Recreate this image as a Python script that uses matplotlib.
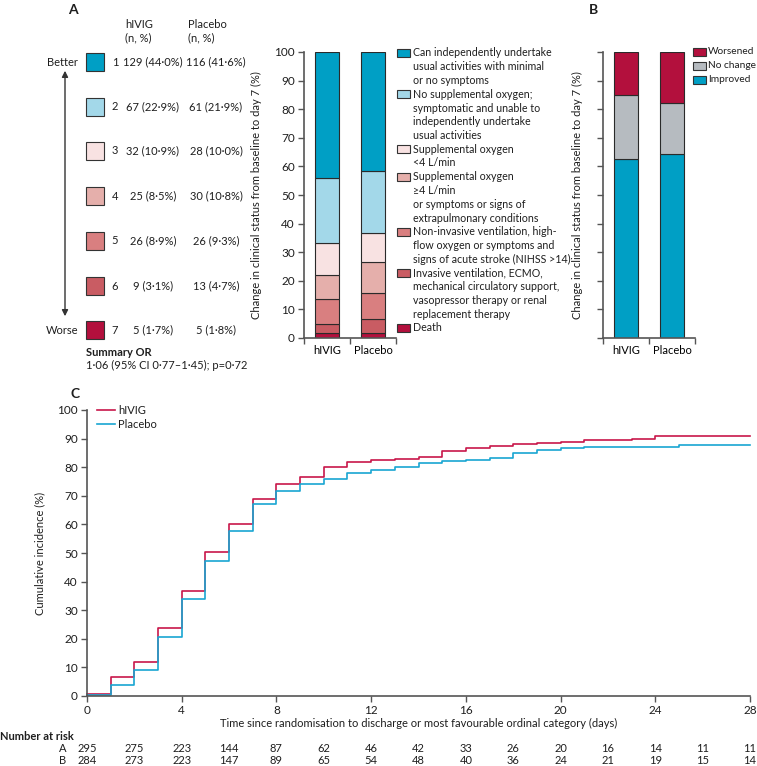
import matplotlib
matplotlib.use('Agg')
import matplotlib.pyplot as plt
from matplotlib.patches import Rectangle, FancyArrowPatch
from matplotlib.lines import Line2D
from matplotlib.transforms import blended_transform_factory

plt.rcParams['font.family'] = ['Lato', 'DejaVu Sans']
plt.rcParams['font.size'] = 8

W, H = 757, 766

# ---------------- data ----------------
groups = ['hIVIG', 'Placebo']
levels = [1, 2, 3, 4, 5, 6, 7]
hivig_n = [129, 67, 32, 25, 26, 9, 5]
hivig_pct = [44.0, 22.9, 10.9, 8.5, 8.9, 3.1, 1.7]
placebo_n = [116, 61, 28, 30, 26, 13, 5]
placebo_pct = [41.6, 21.9, 10.0, 10.8, 9.3, 4.7, 1.8]
category_labels = [
    "Can independently undertake\nusual activities with minimal\nor no symptoms",
    "No supplemental oxygen;\nsymptomatic and unable to\nindependently undertake\nusual activities",
    "Supplemental oxygen\n<4 L/min",
    "Supplemental oxygen\n\u22654 L/min\nor symptoms or signs of\nextrapulmonary conditions",
    "Non-invasive ventilation, high-\nflow oxygen or symptoms and\nsigns of acute stroke (NIHSS >14)",
    "Invasive ventilation, ECMO,\nmechanical circulatory support,\nvasopressor therapy or renal\nreplacement therapy",
    "Death",
]
level_colors = ['#009fc5', '#a3d8e9', '#f8e2e2', '#e5afab', '#d97f80', '#c95c63', '#b3103d']

change_labels = ['Worsened', 'No change', 'Improved']
change_hivig = [15.2, 22.1, 62.7]
change_placebo = [18.0, 17.8, 64.2]
change_colors = ['#b3103d', '#b6bbc0', '#009fc5']

days = list(range(0, 29))
cum_hivig = [0.7, 6.5, 11.9, 23.7, 36.6, 50.3, 60.0, 68.9, 74.0, 76.7, 80.0, 81.7, 82.4, 82.7,
             83.6, 85.7, 86.6, 87.5, 88.1, 88.5, 88.9, 89.6, 89.6, 90.0, 90.9, 90.9, 90.9, 90.9]
cum_placebo = [0.3, 3.9, 9.2, 20.7, 33.9, 47.3, 57.8, 67.1, 71.8, 74.0, 75.8, 77.8, 78.9, 80.0,
               81.4, 82.1, 82.4, 83.2, 84.8, 86.0, 86.6, 86.9, 87.0, 87.0, 87.0, 87.9, 87.9, 87.9]
risk_days = [0, 2, 4, 6, 8, 10, 12, 14, 16, 18, 20, 22, 24, 26, 28]
risk_A = [295, 275, 223, 144, 87, 62, 46, 42, 33, 26, 20, 16, 14, 11, 11]
risk_B = [284, 273, 223, 147, 89, 65, 54, 48, 40, 36, 24, 21, 19, 15, 14]

col_hivig = '#c8174a'
col_placebo = '#19a6d2'
spine_col = '#555555'
txt = '#1e1e1e'

# ---------------- helpers ----------------
fig = plt.figure(figsize=(W / 100, H / 100), dpi=100)


def box(x0, y0, x1, y1):
    return [x0 / W, 1 - y1 / H, (x1 - x0) / W, (y1 - y0) / H]


def T(x, y, s, **kw):
    kw.setdefault('va', 'center')
    kw.setdefault('color', txt)
    return fig.text(x / W, 1 - y / H, s, **kw)


def R(x0, y0, w, h, color):
    fig.add_artist(Rectangle((x0 / W, 1 - (y0 + h) / H), w / W, h / H, facecolor=color,
                             edgecolor='#333333', linewidth=0.8, transform=fig.transFigure))


def style(ax):
    for s in ['top', 'right']:
        ax.spines[s].set_visible(False)
    for s in ['left', 'bottom']:
        ax.spines[s].set_color(spine_col)
        ax.spines[s].set_linewidth(1.2)
    ax.tick_params(colors=spine_col, labelcolor=txt, width=1.0, length=4, labelsize=8.5, pad=2.5)


def fmt(n, p):
    return f"{n} ({p:.1f}%)".replace('.', '\u00b7')

# ---------------- panel A table ----------------
T(73, 10, 'A', fontsize=10, fontweight='bold', ha='center')
T(125, 24, 'hIVIG', ha='left')
T(125, 38, '(n, %)', ha='left')
T(188, 24, 'Placebo', ha='left')
T(188, 38, '(n, %)', ha='left')
row_y = [62, 107, 151, 196, 241, 286, 330]
for i, lv in enumerate(levels):
    y = row_y[i]
    R(86, y - 9, 18, 18, level_colors[i])
    T(115, y, str(lv), ha='center')
    T(153, y, fmt(hivig_n[i], hivig_pct[i]), ha='center')
    T(216, y, fmt(placebo_n[i], placebo_pct[i]), ha='center')
T(78, 62, 'Better', ha='right')
T(78, 330, 'Worse', ha='right')
fig.add_artist(FancyArrowPatch((65 / W, 1 - 68 / H), (65 / W, 1 - 319 / H),
                               arrowstyle='<|-|>', mutation_scale=9, color='#333333',
                               linewidth=1.0, transform=fig.transFigure))
T(86, 352, 'Summary OR', ha='left', fontweight='bold')
T(86, 365, '1\u00b706 (95% CI 0\u00b777\u20131\u00b745); p=0\u00b772', ha='left')

# ---------------- panel A bars ----------------
axA = fig.add_axes(box(304, 52, 396, 338))
xpos = [0.5, 1.5]
bottom = [0.0, 0.0]
for i in reversed(range(len(levels))):
    h = [hivig_pct[i], placebo_pct[i]]
    axA.bar(xpos, h, width=0.52, bottom=bottom, color=level_colors[i],
            edgecolor='#2a2a2a', linewidth=0.8)
    bottom = [bottom[0] + h[0], bottom[1] + h[1]]
axA.set_xlim(0, 2)
axA.set_ylim(0, 100)
axA.set_yticks(range(0, 101, 10))
axA.set_xticks([0, 1, 2])
axA.set_xticklabels([])
axA.set_xticks(xpos, minor=True)
axA.set_xticklabels(groups, minor=True)
style(axA)
axA.tick_params(axis='x', which='minor', length=0, pad=5)
axA.set_ylabel('Change in clinical status from baseline to day 7 (%)', color=txt)
axA.yaxis.set_label_coords((262 - 304) / 92, 0.5)

# legend A (manual)
line_h = 13.75
ly = 53
for i, lab in enumerate(category_labels):
    R(397, ly - 4, 13, 8, level_colors[i])
    for j, ln in enumerate(lab.split('\n')):
        T(413, ly + j * line_h, ln, ha='left', fontsize=7.7)
    ly += line_h * len(lab.split('\n'))

# ---------------- panel B ----------------
T(593, 10, 'B', fontsize=10, fontweight='bold', ha='center')
axB = fig.add_axes(box(603, 52, 695, 338))
bottom = [0.0, 0.0]
for i in reversed(range(len(change_labels))):
    h = [change_hivig[i], change_placebo[i]]
    axB.bar(xpos, h, width=0.52, bottom=bottom, color=change_colors[i],
            edgecolor='#2a2a2a', linewidth=0.8)
    bottom = [bottom[0] + h[0], bottom[1] + h[1]]
axB.set_xlim(0, 2)
axB.set_ylim(0, 100)
axB.set_yticks(range(0, 101, 10))
axB.set_yticklabels([])
axB.set_xticks([0, 1, 2])
axB.set_xticklabels([])
axB.set_xticks(xpos, minor=True)
axB.set_xticklabels(groups, minor=True)
style(axB)
axB.tick_params(axis='x', which='minor', length=0, pad=5)
axB.set_ylabel('Change in clinical status from baseline to day 7 (%)', color=txt)
axB.yaxis.set_label_coords((583 - 603) / 92, 0.5)
for i, lab in enumerate(change_labels):
    y = 52 + 14 * i
    R(693, y - 4, 13, 8, change_colors[i])
    T(708, y, lab, ha='left', fontsize=7.3)

# ---------------- panel C ----------------
T(75, 394, 'C', fontsize=10, fontweight='bold', ha='center')
axC = fig.add_axes(box(87, 410, 750, 696))
axC.step(days, cum_hivig + [cum_hivig[-1]], where='post', color=col_hivig, linewidth=1.2,
         label='hIVIG', clip_on=False)
axC.step(days, cum_placebo + [cum_placebo[-1]], where='post', color=col_placebo, linewidth=1.2,
         label='Placebo', clip_on=False)
axC.set_xlim(0, 28)
axC.set_ylim(0, 100)
axC.set_xticks(range(0, 29, 4))
axC.set_yticks(range(0, 101, 10))
style(axC)
axC.set_ylabel('Cumulative incidence (%)', color=txt)
axC.yaxis.set_label_coords((45 - 87) / 663, 0.5)
axC.set_xlabel('Time since randomisation to discharge or most favourable ordinal category (days)',
               color=txt)
axC.xaxis.set_label_coords(0.5, -(718 - 696) / 286)
for y, lab, c in [(410, 'hIVIG', col_hivig), (424, 'Placebo', col_placebo)]:
    fig.add_artist(Line2D([97 / W, 115 / W], [1 - y / H, 1 - y / H], color=c, linewidth=1.2,
                          transform=fig.transFigure))
    T(118, y, lab, ha='left')

trans = blended_transform_factory(axC.transData, fig.transFigure)
T(0, 736, 'Number at risk', ha='left', fontweight='bold')
T(63, 749, 'A', ha='center')
T(63, 761, 'B', ha='center')
for d, a, b in zip(risk_days, risk_A, risk_B):
    axC.text(d, 1 - 749 / H, str(a), transform=trans, ha='center', va='center', color=txt)
    axC.text(d, 1 - 761 / H, str(b), transform=trans, ha='center', va='center', color=txt)

fig.savefig('out.png', dpi=100)
